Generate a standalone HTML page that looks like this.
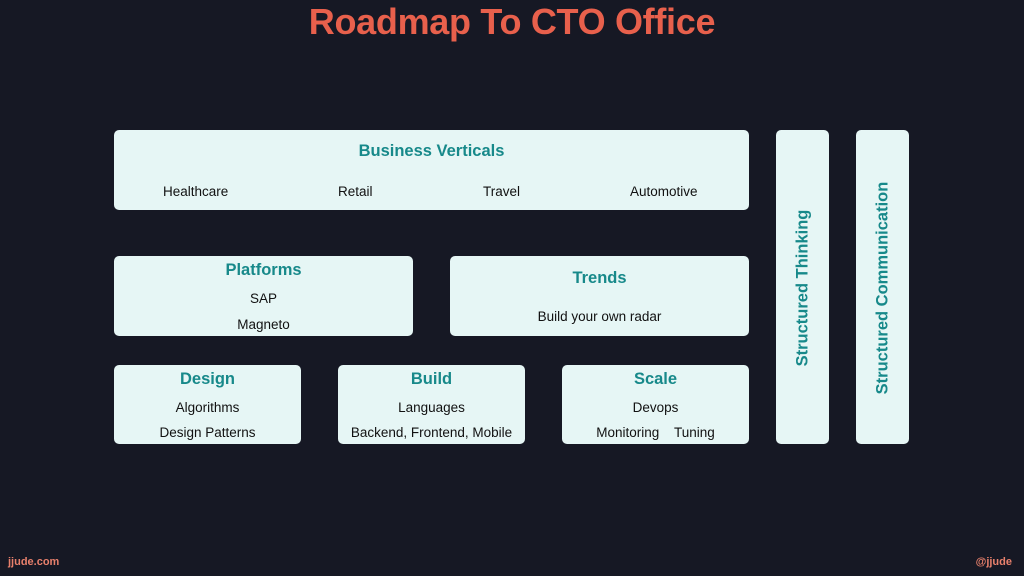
<!DOCTYPE html>
<html><head><style>
body{margin:0;width:1024px;height:576px;background:#161824;position:relative;overflow:hidden;font-family:"Liberation Sans",sans-serif}
.t{position:absolute;left:0;width:1024px;top:1px;text-align:center;color:#e8604c;font-weight:bold;font-size:36px;letter-spacing:-0.3px}
.b{position:absolute;background:#e6f6f5;border-radius:5px}
.h{position:absolute;left:0;right:0;text-align:center;color:#17898a;font-weight:bold;font-size:16.5px}
.s{position:absolute;text-align:center;color:#111;font-size:13.5px;white-space:nowrap}
.v{position:absolute;color:#17898a;font-weight:bold;font-size:16.5px;white-space:nowrap;transform:translate(-50%,-50%) rotate(-90deg)}
.f{position:absolute;top:556px;color:#e8806c;font-size:11px;font-weight:bold}
</style></head><body>
<div class="t">Roadmap To CTO Office</div>

<div class="b" style="left:114px;top:130px;width:635px;height:80px">
<div class="h" style="top:12px">Business Verticals</div>
<div class="s" style="left:49px;top:54px">Healthcare</div>
<div class="s" style="left:224px;top:54px">Retail</div>
<div class="s" style="left:369px;top:54px">Travel</div>
<div class="s" style="left:516px;top:54px">Automotive</div>
</div>

<div class="b" style="left:114px;top:256px;width:299px;height:80px">
<div class="h" style="top:5px">Platforms</div>
<div class="s" style="left:0;right:0;top:35px">SAP</div>
<div class="s" style="left:0;right:0;top:61px">Magneto</div>
</div>
<div class="b" style="left:450px;top:256px;width:299px;height:80px">
<div class="h" style="top:13px">Trends</div>
<div class="s" style="left:0;right:0;top:53px">Build your own radar</div>
</div>

<div class="b" style="left:114px;top:365px;width:187px;height:79px">
<div class="h" style="top:5px">Design</div>
<div class="s" style="left:0;right:0;top:35px">Algorithms</div>
<div class="s" style="left:0;right:0;top:60px">Design Patterns</div>
</div>
<div class="b" style="left:338px;top:365px;width:187px;height:79px">
<div class="h" style="top:5px">Build</div>
<div class="s" style="left:0;right:0;top:35px">Languages</div>
<div class="s" style="left:0;right:0;top:60px">Backend, Frontend, Mobile</div>
</div>
<div class="b" style="left:562px;top:365px;width:187px;height:79px">
<div class="h" style="top:5px">Scale</div>
<div class="s" style="left:0;right:0;top:35px">Devops</div>
<div class="s" style="left:0;right:0;top:60px">Monitoring &nbsp;&nbsp; Tuning</div>
</div>

<div class="b" style="left:776px;top:130px;width:53px;height:314px"></div>
<div class="v" style="left:803px;top:288px">Structured Thinking</div>
<div class="b" style="left:856px;top:130px;width:53px;height:314px"></div>
<div class="v" style="left:883px;top:288px">Structured Communication</div>

<div class="f" style="left:8px">jjude.com</div>
<div class="f" style="right:12px">@jjude</div>
</body></html>
